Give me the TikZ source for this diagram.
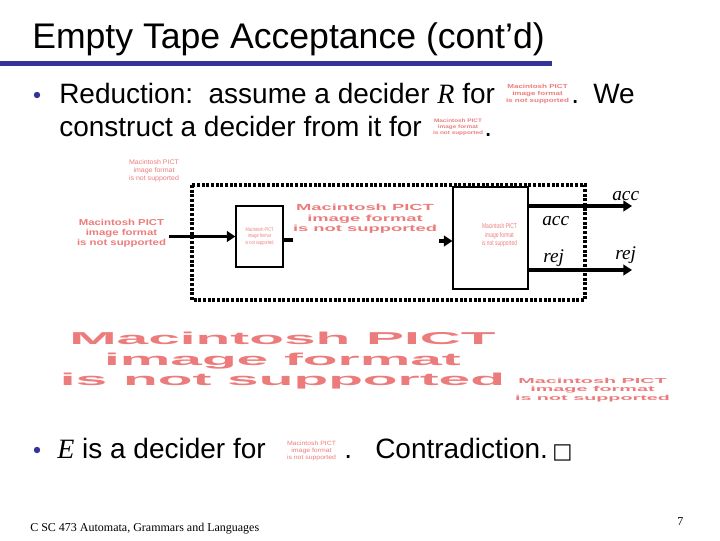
\documentclass[tikz,border=0pt]{standalone}
\usepackage{fontspec}
\setmainfont{Liberation Sans}
\newfontfamily\timesfont{Liberation Serif}
\newfontfamily\dejavu{DejaVu Sans}
\usepackage{graphicx}
\usetikzlibrary{positioning,arrows.meta}
\definecolor{cTitle}{RGB}{51,51,153}
\definecolor{cPict}{RGB}{236,124,124}
\definecolor{cInk}{RGB}{0,0,0}
\newlength{\pxu}
\setlength{\pxu}{0.75pt}
% placeholder for the missing pictures, squeezed to w x h (in px)
\newcommand{\pict}[3][\bfseries]{\resizebox*{#2\pxu}{#3\pxu}{\color{cPict}#1%
  \begin{tabular}{@{}c@{}}Macintosh PICT\\image format\\is not supported\end{tabular}}}
\tikzset{
  sl/title/.style ={anchor=base west, inner sep=0pt, font=\fontsize{26.7}{32}\selectfont},
  sl/body/.style  ={anchor=base west, inner sep=0pt, font=\fontsize{21}{25}\selectfont},
  sl/pict/.style  ={inner sep=0pt},
  sl/bullet/.style={circle, fill=cTitle, inner sep=0pt, minimum size=4.8pt},
  sl/box/.style   ={draw=cInk, line width=0.8pt, inner sep=0pt},
  sl/frame/.style ={draw=cInk, line width=2.4pt, dash pattern=on 2.2pt off 1.3pt},
  sl/arr/.style   ={-{Triangle[length=6.5pt, width=8pt]}, line width=2.6pt, cInk},
  sl/wire/.style  ={line width=2.6pt, cInk},
  sl/lab/.style   ={anchor=base west, inner sep=0pt,
                    font=\timesfont\itshape\fontsize{14.5}{15}\selectfont},
  sl/foot/.style  ={anchor=base west, inner sep=0pt,
                    font=\timesfont\fontsize{9}{11}\selectfont}
}
\newcommand{\var}[1]{{\timesfont\itshape #1}}

\begin{document}
\begin{tikzpicture}[x=0.75pt, y=-0.75pt]
    \useasboundingbox (0,0) rectangle (720,540);

    % --- title ---
    \node[sl/title] (title) at (32,48) {Empty Tape Acceptance (cont'd)};
    \draw[cTitle, line width=3.2pt] (0,63.5) -- (552,63.5);

    % --- first bullet ---
    \node[sl/bullet] (bulA) at (37,95) {};
    \node[sl/body] (lineA) at (59,103) {Reduction:\ \ assume a decider \var{R} for};
    \node[sl/pict] (pictA) at (537.5,94.5) {\pict{63}{21}};
    \node[sl/body] (dotA) at (571,103) {.};
    \node[sl/body] (weA) at (593,103) {We};
    \node[sl/body] (lineB) at (59,136) {construct a decider from it for};
    \node[sl/pict] (pictB) at (458,127) {\pict{50}{18}};
    \node[sl/body] (dotB) at (484,136) {.};

    % --- machine E ---
    \node[sl/pict] (pictTop) at (154,171) {\pict[\mdseries]{50}{24}};
    \draw[sl/frame] (192,185) rectangle (585,300);
    \node[sl/pict] (pictIn) at (121.5,233.5) {\pict{89}{31}};
    \node[sl/box, minimum width=47\pxu, minimum height=61\pxu] (inner) at (259.5,236.5)
         {\pict[\mdseries]{28}{19}};
    \node[sl/pict] (pictMid) at (365,219) {\pict{144}{32}};
    \node[sl/box, minimum width=75\pxu, minimum height=102\pxu] (decR) at (490.5,238) {};
    \node[sl/pict] (pictR) at (499.5,235.5) {\pict[\mdseries]{35}{25}};

    \coordinate (stubY) at (0,240);
    \coordinate (accEnd) at (632,206);
    \coordinate (rejEnd) at (632,270);

    % --- arrows ---
    \draw[sl/arr] ([xshift=3\pxu]pictIn.east |- inner.west) -- (inner.west);
    \draw[sl/wire] (inner.east |- stubY) -- (pictMid.west |- stubY);
    \draw[sl/arr] ([xshift=-13\pxu, yshift=-3\pxu]decR.west) -- ([yshift=-3\pxu]decR.west);
    \draw[sl/arr] (decR.east |- accEnd) -- (accEnd);
    \draw[sl/arr] (decR.east |- rejEnd) -- (rejEnd);

    \node[sl/lab] (accOut) at (612,200) {acc};
    \node[sl/lab] (accIn) at (542,225) {acc};
    \node[sl/lab] (rejIn) at (543,262) {rej};
    \node[sl/lab] (rejOut) at (615,259) {rej};

    % --- big placeholders ---
    \node[sl/pict] (pictBig) at (282.5,361) {\pict{445}{62}};
    \node[sl/pict] (pictSide) at (592.5,390) {\pict{155}{26}};

    % --- second bullet ---
    \node[sl/bullet] (bulE) at (37,450) {};
    \node[sl/body] (lineE) at (57,458) {\var{E} is a decider for};
    \node[sl/pict] (pictE) at (311.5,451) {\pict[\mdseries]{49}{22}};
    \node[sl/body] (dotE) at (344,458) {.};
    \node[sl/body] (contra) at (375,458) {Contradiction.};
    \node[sl/body] (qed) at (552,458) {\dejavu\fontsize{16}{20}\selectfont □};

    % --- footer ---
    \node[sl/foot] (foot) at (30,531) {C SC 473 Automata, Grammars and Languages};
    \node[sl/foot] (pageno) at (677,525) {7};
\end{tikzpicture}
\end{document}
